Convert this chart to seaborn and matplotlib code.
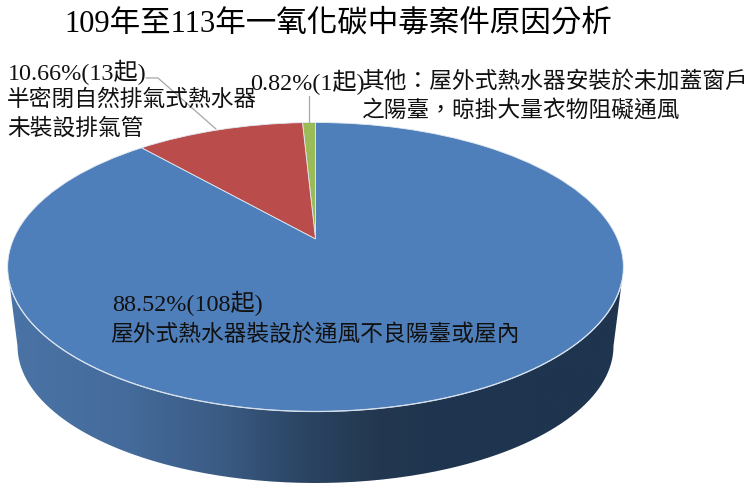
import numpy as np
import matplotlib
matplotlib.use("Agg")
import matplotlib.pyplot as plt
import matplotlib.transforms as mtransforms
from matplotlib.colors import LinearSegmentedColormap
from matplotlib.path import Path
from matplotlib.patches import PathPatch
import seaborn as sns

# ---- data ----
causes = ["其他", "半密閉自然排氣式熱水器未裝設排氣管", "屋外式熱水器裝設於通風不良陽臺或屋內"]
counts = [1, 13, 108]
colors = ["#9BBB59", "#BA4D4B", "#4F7FBA"]
title = "109年至113年一氧化碳中毒案件原因分析"
value_labels = ["10.66%(13起)", "0.82%(1起)", "88.52%(108起)"]
label_red = ["半密閉自然排氣式熱水器", "未裝設排氣管"]
label_green = ["其他：屋外式熱水器安裝於未加蓋窗戶", "之陽臺，晾掛大量衣物阻礙通風"]
label_blue = ["屋外式熱水器裝設於通風不良陽臺或屋內"]

sns.set_theme(style="white")
plt.rcParams["font.family"] = ["Liberation Serif", "Noto Sans CJK TC", "DejaVu Sans"]


class Perspective(mtransforms.Transform):
    """Maps the unit-circle pie onto the tilted disc, in pixel-like data units."""
    input_dims = output_dims = 2
    is_separable = False
    has_inverse = False

    def __init__(self, cx=315.5, cy=267.0, a=302.0, b=144.5, c=28.0, k=0.1938):
        super().__init__()
        self.p = (cx, cy, a, b, c, k)

    def transform_non_affine(self, values):
        cx, cy, a, b, c, k = self.p
        v = np.asarray(values, dtype=float)
        w = 1 + k * v[:, 1]
        return np.column_stack([cx + a * v[:, 0] / w, cy - (b * v[:, 1] + c) / w])


fig, ax = plt.subplots(figsize=(7.5, 4.92), dpi=100)
fig.subplots_adjust(0, 0, 1, 1)

wedges, _ = ax.pie(counts, colors=colors, startangle=90, counterclock=True,
                   wedgeprops=dict(edgecolor="#E3EAF2", linewidth=0.6, zorder=3))
persp = Perspective()
for w in wedges:
    w.set_transform(persp + ax.transData)

# side wall of the disc
rx_top, ry_top, cy_top, cx = 308.0, 144.5, 267.0, 315.5
rx_bot, ry_bot, cy_bot = 298.0, 137.0, 346.0
t0 = np.arcsin(16 / ry_top)
t_top = np.linspace(t0, np.pi - t0, 200)
top_x = cx + rx_top * np.cos(t_top)
top_y = cy_top + ry_top * np.sin(t_top)
t_bot = np.linspace(np.pi, 0, 200)
bot_x = cx + rx_bot * np.cos(t_bot)
bot_y = cy_bot + ry_bot * np.sin(t_bot)
side = Path(np.column_stack([np.r_[top_x, bot_x, top_x[0]], np.r_[top_y, bot_y, top_y[0]]]))
clip = PathPatch(side, transform=ax.transData, facecolor="none", edgecolor="none")
ax.add_patch(clip)
stops = [(0.0, "#4B74A6"), (0.2, "#446B9B"), (0.36, "#3A5A82"), (0.47, "#2C4666"),
         (0.6, "#23384F"), (0.7, "#1F3550"), (1.0, "#1F344E")]
cmap = LinearSegmentedColormap.from_list("side", stops)
im = ax.imshow(np.linspace(0, 1, 256).reshape(1, -1), cmap=cmap, aspect="auto",
               extent=(0, 630, 490, 270), zorder=1)
im.set_clip_path(clip)
ax.plot(top_x, top_y, color="#D5E0EC", lw=0.9, zorder=4)

# leader lines
ax.plot([146, 158, 216], [78, 78, 129], color="#A6A6A6", lw=0.9, zorder=5)
ax.plot([308.5, 308.5], [96, 122], color="#A6A6A6", lw=0.9, zorder=5)

# text
ax.text(338, 24, title, fontsize=22, ha="center", va="center", color="black", zorder=6)
txt = dict(fontsize=16.35, va="center", ha="left", color="#111111", zorder=6)
num = dict(fontsize=17.4, va="center", ha="left", color="#111111", zorder=6)
for x, y, s in zip([8, 250, 112], [72, 82, 303], value_labels):
    ax.text(x, y, s, **num)
for x, y, s in zip([7, 7], [100, 129], label_red):
    ax.text(x, y, s, **txt)
for x, y, s in zip([362, 362], [82, 111], label_green):
    ax.text(x, y, s, **txt)
for x, y, s in zip([110], [335], label_blue):
    ax.text(x, y, s, **txt)

ax.set_aspect("auto")
ax.set_xlim(0, 750)
ax.set_ylim(492, 0)
ax.axis("off")
fig.savefig("out.png", dpi=100, facecolor="white")
